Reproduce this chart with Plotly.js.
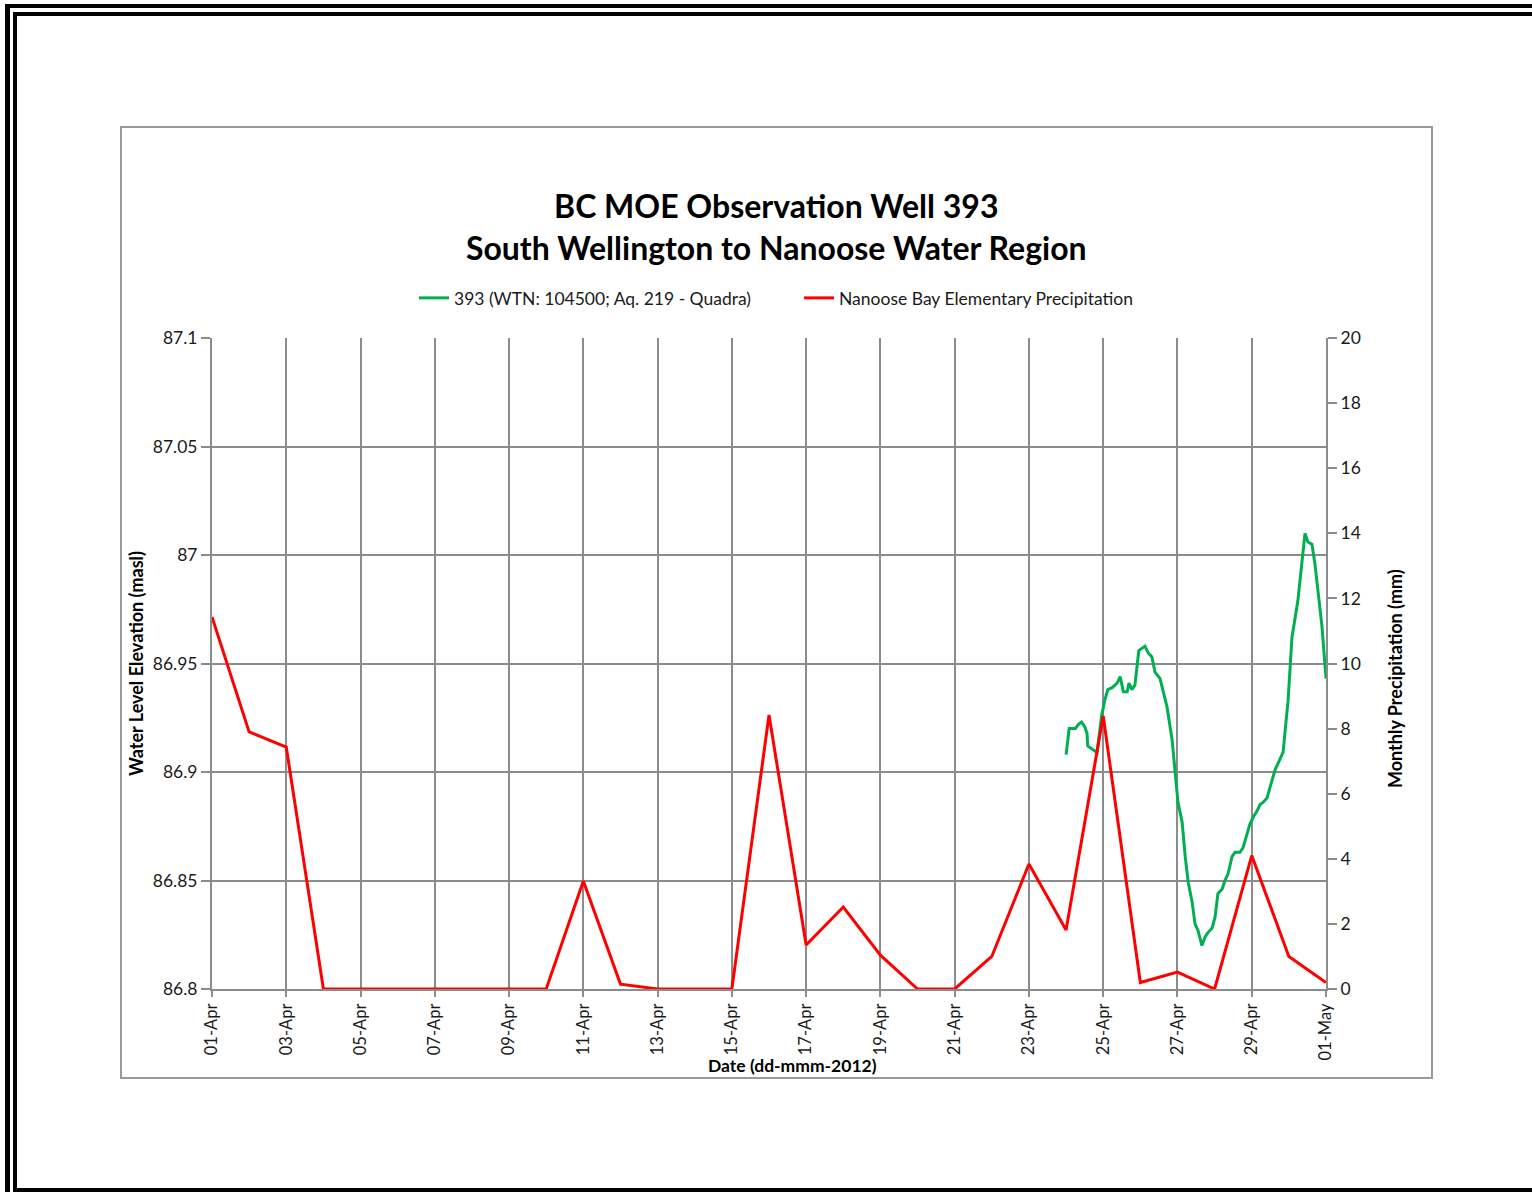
<!DOCTYPE html>
<html>
<head>
<meta charset="utf-8">
<script src="https://cdn.plot.ly/plotly-3.0.1.min.js"></script>
<style>
  html, body { margin: 0; padding: 0; background: #fff; }
  #wrap { position: relative; width: 1532px; height: 1192px; overflow: hidden; }
  #chart { position: absolute; left: 0; top: 0; width: 1532px; height: 1192px; }
  .deco { position: absolute; pointer-events: none; box-sizing: border-box; }
</style>
</head>
<body>
<div id="wrap">
  <div id="chart"></div>
  <div class="deco" style="left:5px; top:4px; width:1600px; height:1188px; border-left:5px solid #000; border-top:4px solid #000;"></div>
  <div class="deco" style="left:13px; top:12px; width:1600px; height:1180px; border-left:4px solid #000; border-top:4px solid #000; border-bottom:4px solid #000;"></div>
  <div class="deco" style="left:120px; top:126px; width:1313px; height:953px; border:2px solid #9a9a9a;"></div>
</div>
<script>
// ---- Data ----
const precipDates = [
  '2012-04-01','2012-04-02','2012-04-03','2012-04-04','2012-04-05','2012-04-06','2012-04-07','2012-04-08','2012-04-09','2012-04-10',
  '2012-04-11','2012-04-12','2012-04-13','2012-04-14','2012-04-15','2012-04-16','2012-04-17','2012-04-18','2012-04-19','2012-04-20',
  '2012-04-21','2012-04-22','2012-04-23','2012-04-24','2012-04-25','2012-04-26','2012-04-27','2012-04-28','2012-04-29','2012-04-30',
  '2012-05-01'
];
const precipMM = [
  11.43, 7.9, 7.43, 0, 0, 0, 0, 0, 0, 0,
  3.32, 0.15, 0, 0, 0, 8.42, 1.35, 2.52, 1.04, 0,
  0, 1.0, 3.84, 1.81, 8.39, 0.2, 0.52, 0, 4.1, 1.0,
  0.2
];

const wellTimes = [
  '2012-04-24 00:00','2012-04-24 02:00','2012-04-24 04:00','2012-04-24 06:00','2012-04-24 08:00','2012-04-24 10:00',
  '2012-04-24 12:00','2012-04-24 13:30','2012-04-24 14:00','2012-04-24 17:30','2012-04-24 20:00','2012-04-24 23:00',
  '2012-04-25 01:00','2012-04-25 03:00','2012-04-25 06:00','2012-04-25 09:00','2012-04-25 11:00','2012-04-25 13:00',
  '2012-04-25 15:30','2012-04-25 16:40','2012-04-25 18:30','2012-04-25 20:30','2012-04-25 23:00',
  '2012-04-26 03:00','2012-04-26 05:00','2012-04-26 07:30','2012-04-26 09:30','2012-04-26 12:45','2012-04-26 17:15',
  '2012-04-26 20:30','2012-04-26 22:30',
  '2012-04-27 00:20','2012-04-27 03:00','2012-04-27 05:00','2012-04-27 07:00','2012-04-27 09:30','2012-04-27 11:20',
  '2012-04-27 13:15','2012-04-27 15:50','2012-04-27 17:50','2012-04-27 19:40','2012-04-27 22:20',
  '2012-04-28 00:15','2012-04-28 02:10','2012-04-28 04:50','2012-04-28 06:40','2012-04-28 08:40','2012-04-28 11:15',
  '2012-04-28 13:10','2012-04-28 16:25','2012-04-28 18:20','2012-04-28 21:00','2012-04-28 22:50',
  '2012-04-29 00:50','2012-04-29 03:25','2012-04-29 05:20','2012-04-29 07:20','2012-04-29 09:50','2012-04-29 13:10',
  '2012-04-29 15:05','2012-04-29 17:00','2012-04-29 20:15','2012-04-29 23:30',
  '2012-04-30 02:00','2012-04-30 05:50','2012-04-30 10:25','2012-04-30 12:20','2012-04-30 14:55','2012-04-30 16:50',
  '2012-04-30 18:50','2012-04-30 21:25','2012-05-01 00:00'
];
const wellLevel = [
  86.908, 86.920, 86.920, 86.920, 86.922, 86.923,
  86.921, 86.918, 86.912, 86.910, 86.909, 86.926,
  86.933, 86.938, 86.939, 86.941, 86.944, 86.937,
  86.937, 86.941, 86.938, 86.940, 86.956,
  86.958, 86.955, 86.953, 86.946, 86.943, 86.930,
  86.915, 86.900,
  86.886, 86.877, 86.861, 86.849, 86.840, 86.830,
  86.827, 86.820, 86.824, 86.826, 86.828,
  86.833, 86.844, 86.846, 86.850, 86.853, 86.861,
  86.863, 86.863, 86.865, 86.872, 86.876,
  86.879, 86.882, 86.885, 86.886, 86.888, 86.896,
  86.901, 86.904, 86.909, 86.933,
  86.962, 86.979, 87.010, 87.006, 87.005, 86.996,
  86.982, 86.967, 86.943
];

const wellName = '393 (WTN: 104500; Aq. 219 - Quadra)';
const precipName = 'Nanoose Bay Elementary Precipitation';
const titleText = '<b>BC MOE Observation Well 393</b><br><b>South Wellington to Nanoose Water Region</b>';
const leftTitle = '<b>Water Level Elevation (masl)</b>';
const rightTitle = '<b>Monthly Precipitation (mm)</b>';
const xTitle = '<b>Date (dd-mmm-2012)</b>';

const FONT = 'Lato, "Liberation Sans", Arial, sans-serif';
const GRID = '#8c8c8c';
const TXT = '#1a1a1a';

const traces = [
  {
    x: wellTimes, y: wellLevel, name: wellName, type: 'scatter', mode: 'lines',
    line: { color: '#00B050', width: 3 }, yaxis: 'y'
  },
  {
    x: precipDates, y: precipMM, name: precipName, type: 'scatter', mode: 'lines',
    line: { color: '#FF0000', width: 3 }, yaxis: 'y2'
  }
];

const layout = {
  width: 1532, height: 1192,
  margin: { l: 212, r: 206, t: 338, b: 203 },
  paper_bgcolor: '#fff', plot_bgcolor: '#fff',
  font: { family: FONT, color: TXT, size: 17 },
  title: {
    text: titleText,
    font: { family: FONT, size: 32, color: '#000' },
    x: 776 / 1532, xref: 'paper', xanchor: 'center',
    y: 1 - 218 / 1192, yref: 'container', yanchor: 'top'
  },
  showlegend: true,
  legend: {
    orientation: 'h', x: (799 - 212) / 1114, xanchor: 'center',
    y: (989 - 298) / 651, yanchor: 'middle',
    font: { family: FONT, size: 17.5, color: TXT },
    bgcolor: 'rgba(0,0,0,0)', traceorder: 'normal',
    entrywidth: 340, entrywidthmode: 'pixels'
  },
  xaxis: {
    type: 'date',
    range: ['2012-04-01', '2012-05-01'],
    tick0: '2012-04-01', dtick: 2 * 86400000,
    tickformat: '%d-%b', tickangle: -90,
    ticks: 'outside', ticklen: 6, tickwidth: 2, tickcolor: GRID,
    showgrid: true, gridcolor: GRID, gridwidth: 2,
    showline: true, linecolor: GRID, linewidth: 2,
    tickfont: { family: FONT, size: 16.5, color: TXT },
    zeroline: false, automargin: false, fixedrange: true
  },
  yaxis: {
    range: [86.8, 87.1], dtick: 0.05, tick0: 86.8,
    ticks: 'outside', ticklen: 9, tickwidth: 2, tickcolor: GRID,
    showgrid: true, gridcolor: GRID, gridwidth: 2,
    showline: true, linecolor: GRID, linewidth: 2,
    tickfont: { family: FONT, size: 17.5, color: TXT },
    title: { text: leftTitle, font: { family: FONT, size: 18, color: '#000' }, standoff: 4 },
    zeroline: false, automargin: false
  },
  yaxis2: {
    range: [0, 20], dtick: 2, tick0: 0,
    overlaying: 'y', side: 'right',
    ticks: 'outside', ticklen: 9, tickwidth: 2, tickcolor: GRID,
    showgrid: false,
    showline: true, linecolor: GRID, linewidth: 2,
    tickfont: { family: FONT, size: 17.5, color: TXT },
    zeroline: false, automargin: false
  },
  annotations: [
    {
      text: xTitle, xref: 'paper', yref: 'paper',
      x: (792 - 212) / 1114, y: (989 - 1065) / 651,
      xanchor: 'center', yanchor: 'middle', showarrow: false,
      font: { family: FONT, size: 17.5, color: '#000' }
    },
    {
      text: rightTitle, xref: 'paper', yref: 'paper',
      x: (1395 - 212) / 1114, y: (989 - 679) / 651,
      xanchor: 'center', yanchor: 'middle', showarrow: false, textangle: -90,
      font: { family: FONT, size: 18, color: '#000' }
    }
  ]
};

Plotly.newPlot('chart', traces, layout, { displayModeBar: false, staticPlot: true });
</script>
</body>
</html>
